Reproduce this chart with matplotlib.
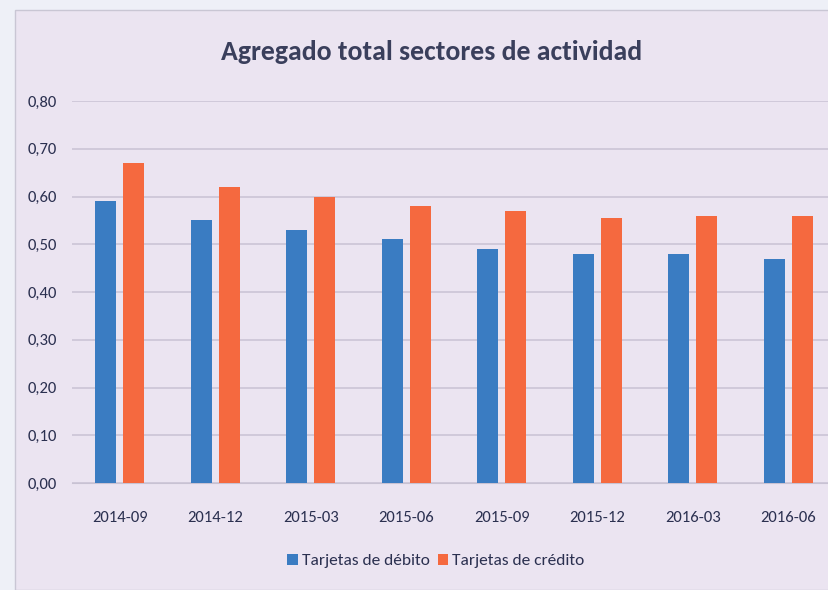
import matplotlib
matplotlib.use("Agg")
import matplotlib.pyplot as plt
import numpy as np
from matplotlib.patches import Rectangle
from matplotlib import font_manager

categories = ["2014-09", "2014-12", "2015-03", "2015-06", "2015-09", "2015-12", "2016-03", "2016-06"]
debito = [0.59, 0.55, 0.53, 0.51, 0.49, 0.48, 0.48, 0.47]
credito = [0.67, 0.62, 0.60, 0.58, 0.57, 0.555, 0.56, 0.56]
yticks = [0.0, 0.1, 0.2, 0.3, 0.4, 0.5, 0.6, 0.7, 0.8]
ytick_labels = ["0,00", "0,10", "0,20", "0,30", "0,40", "0,50", "0,60", "0,70", "0,80"]

names = {f.name for f in font_manager.fontManager.ttflist}
fam = "DejaVu Sans"
for cand in ["Carlito", "Roboto Condensed", "Liberation Sans Narrow", "Open Sans Condensed"]:
    if cand in names:
        fam = cand
        break
plt.rcParams["font.family"] = [fam, "DejaVu Sans"]
if fam == "DejaVu Sans":
    plt.rcParams["font.stretch"] = "condensed"

W, H = 829, 590
fig = plt.figure(figsize=(W / 100, H / 100), dpi=100, facecolor="#eef0f7")

bg = "#ebe4f1"
fig.patches.append(Rectangle((15 / W, 0), 1 - 15 / W, 1 - 10 / H, transform=fig.transFigure,
                             facecolor=bg, edgecolor="#c9c6d4", linewidth=1.0, zorder=-5))

left = 72 / W
right = 836 / W
bottom = 1 - 483 / H
top = 1 - 101 / H
ax = fig.add_axes([left, bottom, right - left, top - bottom], zorder=2)
ax.set_facecolor("none")

x = np.arange(len(categories))
w = 0.22
off = 0.146
ax.bar(x - off, debito, w, color="#3a7cc2", label="Tarjetas de débito", zorder=3)
ax.bar(x + off, credito, w, color="#f5693f", label="Tarjetas de crédito", zorder=3)

text_color = "#2b3050"
ax.set_xlim(-0.5, len(categories) - 0.5)
ax.set_ylim(0, 0.8)
ax.set_yticks(yticks)
ax.set_yticklabels(ytick_labels)
ax.set_xticks(x)
ax.set_xticklabels(categories)
ax.yaxis.grid(True, color="#c8c2d3", linewidth=1.1, zorder=0)
ax.set_axisbelow(True)
for s in ax.spines.values():
    s.set_visible(False)
ax.spines["bottom"].set_visible(True)
ax.spines["bottom"].set_color("#c8c2d3")
ax.tick_params(axis="both", length=0, labelsize=12, colors=text_color)
ax.tick_params(axis="y", pad=11)
ax.tick_params(axis="x", pad=20)

fig.text(432 / W, 1 - 52 / H, "Agregado total sectores de actividad", ha="center", va="center",
         fontsize=20, color="#3a3f5c", fontweight="bold")

leg = fig.legend(loc="center", bbox_to_anchor=(436 / W, 1 - 561 / H), ncol=2, frameon=False,
                 fontsize=12.5, handlelength=0.6, handleheight=0.6, handletextpad=0.25,
                 columnspacing=0.45)
for t in leg.get_texts():
    t.set_color(text_color)

fig.savefig("out.png", dpi=100, facecolor=fig.get_facecolor())
